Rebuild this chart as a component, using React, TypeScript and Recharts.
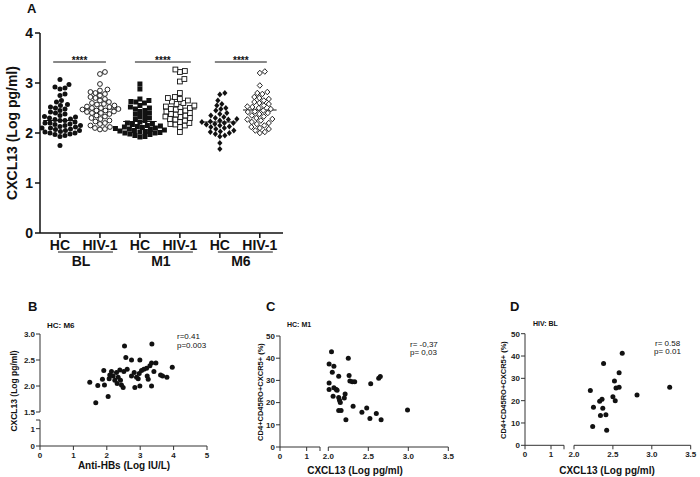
import React from 'react';
import { ScatterChart, Scatter, XAxis, YAxis, ReferenceLine } from 'recharts';

const FONT = '"Liberation Sans", Arial, sans-serif';
const INK = '#111';

// ---- Panel A: CXCL13 by group ----
const groupLabels = ['HC', 'HIV-1', 'HC', 'HIV-1', 'HC', 'HIV-1'];
const timepoints = ['BL', 'M1', 'M6'];

const blHC = [3.07, 2.97, 2.92, 2.9, 2.88, 2.78, 2.75, 2.65, 2.62, 2.57, 2.55, 2.52, 2.5, 2.48, 2.45, 2.42, 2.4, 2.38, 2.35, 2.33, 2.32, 2.3, 2.28, 2.27, 2.25, 2.25, 2.22, 2.2, 2.2, 2.18, 2.17, 2.15, 2.15, 2.13, 2.12, 2.1, 2.1, 2.08, 2.07, 2.05, 2.05, 2.03, 2.02, 2.0, 2.0, 1.98, 1.97, 1.95, 1.93, 1.75];
const blHIV = [3.22, 3.18, 2.98, 2.87, 2.85, 2.82, 2.8, 2.78, 2.75, 2.72, 2.7, 2.68, 2.65, 2.62, 2.6, 2.58, 2.57, 2.55, 2.53, 2.52, 2.5, 2.5, 2.48, 2.47, 2.45, 2.45, 2.43, 2.42, 2.4, 2.4, 2.38, 2.35, 2.33, 2.3, 2.28, 2.25, 2.23, 2.2, 2.18, 2.15, 2.12, 2.1, 2.08, 2.07];
const m1HC = [2.98, 2.88, 2.68, 2.65, 2.63, 2.62, 2.6, 2.55, 2.52, 2.5, 2.48, 2.45, 2.43, 2.4, 2.38, 2.35, 2.33, 2.3, 2.28, 2.25, 2.22, 2.2, 2.18, 2.17, 2.15, 2.14, 2.13, 2.12, 2.11, 2.1, 2.09, 2.08, 2.07, 2.06, 2.05, 2.04, 2.03, 2.02, 2.01, 2.0, 2.0, 1.98, 1.97, 1.95, 1.93, 1.92];
const m1HIV = [3.27, 3.24, 3.22, 3.08, 3.03, 2.8, 2.72, 2.7, 2.68, 2.65, 2.63, 2.6, 2.58, 2.55, 2.53, 2.52, 2.5, 2.48, 2.47, 2.45, 2.43, 2.42, 2.4, 2.38, 2.37, 2.35, 2.33, 2.32, 2.3, 2.28, 2.27, 2.25, 2.22, 2.2, 2.18, 2.17, 2.15, 2.12, 2.02];
const m6HC = [2.8, 2.77, 2.65, 2.58, 2.55, 2.5, 2.48, 2.45, 2.4, 2.38, 2.35, 2.32, 2.3, 2.28, 2.27, 2.25, 2.23, 2.22, 2.2, 2.2, 2.18, 2.17, 2.15, 2.13, 2.12, 2.1, 2.08, 2.05, 2.03, 2.02, 2.0, 1.98, 1.95, 1.93, 1.8, 1.68];
const m6HIV = [3.23, 3.2, 2.95, 2.82, 2.8, 2.78, 2.72, 2.7, 2.68, 2.65, 2.62, 2.6, 2.58, 2.55, 2.53, 2.52, 2.5, 2.48, 2.45, 2.43, 2.42, 2.4, 2.38, 2.35, 2.33, 2.3, 2.28, 2.27, 2.25, 2.22, 2.2, 2.18, 2.15, 2.12, 2.1, 2.08, 2.05, 2.02, 2.0];
const groupMeans = [2.25, 2.48, 2.23, 2.48, 2.22, 2.46];

// ---- Panel B: HC M6, anti-HBs vs CXCL13 ----
const antiHbsB = [1.49, 1.67, 1.73, 1.87, 1.91, 1.93, 2.04, 2.07, 2.09, 2.14, 2.19, 2.24, 2.29, 2.31, 2.34, 2.39, 2.41, 2.44, 2.49, 2.51, 2.53, 2.57, 2.61, 2.74, 2.74, 2.82, 2.84, 2.89, 2.94, 2.97, 2.99, 2.99, 3.04, 3.11, 3.19, 3.21, 3.24, 3.29, 3.34, 3.34, 3.35, 3.41, 3.47, 3.61, 3.67, 3.8, 3.96];
const cxclB = [2.07, 1.68, 2.01, 2.13, 2.3, 2.02, 1.8, 2.14, 2.21, 2.28, 2.19, 2.11, 2.26, 2.05, 2.17, 2.31, 2.11, 2.02, 1.97, 2.28, 2.77, 2.55, 2.32, 2.5, 2.19, 2.26, 1.97, 2.17, 2.14, 2.24, 2.5, 2.0, 2.3, 2.32, 2.34, 2.19, 2.13, 2.39, 2.44, 2.0, 2.81, 2.28, 2.44, 2.21, 2.19, 2.17, 2.36];

// ---- Panel C: HC M1, CXCL13 vs Tfh % ----
const cxclC = [2.04, 2.01, 2.07, 2.05, 2.01, 2.01, 2.07, 2.1, 2.11, 2.06, 2.13, 2.13, 2.14, 2.15, 2.13, 2.16, 2.2, 2.21, 2.22, 2.25, 2.26, 2.27, 2.3, 2.33, 2.31, 2.42, 2.48, 2.52, 2.53, 2.6, 2.63, 2.65, 2.66, 2.99];
const tfhC = [42.9, 37.4, 36.4, 33.7, 28.8, 25.9, 26.7, 25.9, 25.6, 22.9, 31.9, 22.3, 21.1, 20.0, 16.4, 16.4, 22.1, 23.9, 12.3, 40.0, 32.2, 29.7, 29.4, 29.4, 18.4, 15.7, 17.6, 12.8, 28.5, 15.1, 31.0, 31.8, 12.3, 16.7];

// ---- Panel D: HIV BL, CXCL13 vs Tfh % ----
const cxclD = [2.21, 2.24, 2.25, 2.33, 2.34, 2.36, 2.37, 2.38, 2.41, 2.42, 2.5, 2.52, 2.53, 2.54, 2.58, 2.58, 2.62, 2.81, 3.23];
const tfhD = [24.6, 8.4, 17.0, 19.7, 13.3, 20.6, 16.6, 36.7, 13.7, 6.7, 21.8, 28.8, 20.0, 25.7, 32.5, 26.0, 41.2, 22.5, 26.0];

// spread points of one column sideways so they don't overlap (pixel units: 40 px per group, 50 px per log unit)
function swarm(values: number[], center: number) {
  const pxX = 40, pxY = 50, d = 5;
  const placed: { px: number; py: number }[] = [];
  return [...values].sort((a, b) => a - b).map((v) => {
    const py = v * pxY;
    let off = 0;
    for (let k = 0; k < 400; k++) {
      const cand = k === 0 ? 0 : (k % 2 ? 1 : -1) * Math.ceil(k / 2) * 0.5;
      if (placed.every((p) => (p.px - cand) ** 2 + (p.py - py) ** 2 >= d * d)) {
        off = cand;
        break;
      }
    }
    placed.push({ px: off, py });
    return { x: center + off / pxX, y: v };
  });
}

const pairs = (xs: number[], ys: number[]) => xs.map((x, i) => ({ x, y: ys[i] }));

const Dot = (r: number) => (p: any) => <circle cx={p.cx} cy={p.cy} r={r} fill={INK} />;
const Nothing = () => <g />;
const OpenDot = (p: any) => <circle cx={p.cx} cy={p.cy} r={2.4} fill="#fff" stroke={INK} strokeWidth={0.9} />;
const Square = (p: any) => <rect x={p.cx - 2.5} y={p.cy - 2.5} width={5} height={5} fill={INK} />;
const OpenSquare = (p: any) => <rect x={p.cx - 2.4} y={p.cy - 2.4} width={4.8} height={4.8} fill="#fff" stroke={INK} strokeWidth={0.9} />;
const Diamond = (p: any) => <path d={`M${p.cx},${p.cy - 3} L${p.cx + 2.6},${p.cy} L${p.cx},${p.cy + 3} L${p.cx - 2.6},${p.cy} Z`} fill={INK} />;
const OpenDiamond = (p: any) => <path d={`M${p.cx},${p.cy - 2.8} L${p.cx + 2.6},${p.cy} L${p.cx},${p.cy + 2.8} L${p.cx - 2.6},${p.cy} Z`} fill="#fff" stroke={INK} strokeWidth={0.9} />;

const groups = [
  { values: blHC, shape: Dot(2.5) },
  { values: blHIV, shape: OpenDot },
  { values: m1HC, shape: Square },
  { values: m1HIV, shape: OpenSquare },
  { values: m6HC, shape: Diamond },
  { values: m6HIV, shape: OpenDiamond },
];

const sigBars = [
  [-0.17, 1.15],
  [1.875, 3.275],
  [3.875, 5.175],
];

function GroupTick(props: any) {
  const { x, y, payload } = props;
  const i = payload.value as number;
  return (
    <g fontFamily={FONT} fontWeight="bold" fill={INK}>
      <text x={x} y={y + 10} textAnchor="middle" fontSize={14} fill={INK}>
        {groupLabels[i]}
      </text>
      {i % 2 === 0 && (
        <>
          <line x1={x - 2} x2={x + 53} y1={y + 12} y2={y + 12} stroke={INK} strokeWidth={1} />
          <text x={x + 21} y={y + 26} textAnchor="middle" fontSize={14} fill={INK}>
            {timepoints[i / 2]}
          </text>
        </>
      )}
    </g>
  );
}

const axisA = { stroke: INK, strokeWidth: 1.5 };
const tickA = { fontSize: 14, fontWeight: 'bold', fill: INK, fontFamily: FONT };
const axisS = { stroke: '#333', strokeWidth: 1 };
const tickS = { fontSize: 8, fontWeight: 'bold', fill: '#222', fontFamily: FONT };

const abs = (left: number, top: number): React.CSSProperties => ({ position: 'absolute', left, top });
const noBreakLabel = (v: number) => (v === 1.5 ? '' : String(v));

export default function App() {
  return (
    <div style={{ position: 'absolute', left: 0, top: 0, width: 700, height: 477, background: '#fff', fontFamily: FONT }}>
      {/* Panel A */}
      <div style={abs(0, 0)}>
        <ScatterChart width={300} height={280} margin={{ top: 33, right: 17, bottom: 17, left: 0 }}>
          <XAxis type="number" dataKey="x" domain={[-0.5, 5.58]} ticks={[0, 1, 2, 3, 4, 5]} interval={0}
            tick={<GroupTick />} tickSize={5} tickLine={axisA} axisLine={axisA} height={30} allowDataOverflow />
          <YAxis type="number" dataKey="y" domain={[0, 4]} ticks={[0, 1, 2, 3, 4]} width={40} interval={0}
            tick={tickA} tickSize={5} tickMargin={2} tickLine={axisA} axisLine={axisA} />
          {groups.map((g, i) => (
            <Scatter key={i} data={swarm(g.values, i)} shape={g.shape} isAnimationActive={false} />
          ))}
          {groupMeans.map((m, i) => (
            <ReferenceLine key={'m' + i} segment={[{ x: i - 0.42, y: m }, { x: i + 0.42, y: m }]} stroke={INK} strokeWidth={1.2} />
          ))}
          {sigBars.map(([a, b], i) => (
            <ReferenceLine key={'s' + i} segment={[{ x: a, y: 3.42 }, { x: b, y: 3.42 }]} stroke={INK} strokeWidth={1}
              label={{ value: '****', position: 'top', offset: -2, fontSize: 10, fontWeight: 'bold', fill: INK, fontFamily: FONT }} />
          ))}
        </ScatterChart>
      </div>

      {/* Panel B lower (0 - 1.5) with x axis */}
      <div style={abs(0, 415)}>
        <ScatterChart width={215} height={60} margin={{ top: 5, right: 8, bottom: 11, left: 0 }}>
          <XAxis type="number" dataKey="x" domain={[0, 5]} ticks={[0, 1, 2, 3, 4, 5]} interval={0} height={18} allowDataOverflow
            tick={tickS} tickSize={4} tickMargin={2} tickLine={axisS} axisLine={axisS} />
          <YAxis type="number" dataKey="y" domain={[0, 1.5]} ticks={[0, 1, 1.5]} width={40} allowDataOverflow interval={0}
            tickFormatter={noBreakLabel} tick={tickS} tickSize={4} tickMargin={1} tickLine={axisS} axisLine={axisS} />
          <Scatter data={pairs(antiHbsB, cxclB)} shape={Nothing} isAnimationActive={false} />
        </ScatterChart>
      </div>
      {/* Panel B upper (1.5 - 3.0) */}
      <div style={abs(0, 325)}>
        <ScatterChart width={215} height={97} margin={{ top: 9, right: 8, bottom: 10, left: 0 }}>
          <XAxis type="number" dataKey="x" domain={[0, 5]} hide />
          <YAxis type="number" dataKey="y" domain={[1.5, 3]} ticks={[1.5, 2, 2.5, 3]} width={40} interval={0}
            tickFormatter={(v: number) => v.toFixed(1)} tick={tickS} tickSize={4} tickMargin={1} tickLine={axisS} axisLine={axisS} />
          <Scatter data={pairs(antiHbsB, cxclB)} shape={Dot(2.5)} isAnimationActive={false} />
        </ScatterChart>
      </div>

      {/* Panel C left segment (0 - 1.5) */}
      <div style={abs(230, 326)}>
        <ScatterChart width={92} height={140} margin={{ top: 10, right: 2, bottom: 0, left: 0 }}>
          <XAxis type="number" dataKey="x" domain={[0, 1.5]} ticks={[0, 1, 1.5]} interval={0} height={19} allowDataOverflow
            tickFormatter={noBreakLabel} tick={tickS} tickSize={4} tickMargin={2} tickLine={axisS} axisLine={axisS} />
          <YAxis type="number" dataKey="y" domain={[0, 50]} ticks={[0, 10, 20, 30, 40, 50]} width={50} allowDataOverflow interval={0}
            tick={tickS} tickSize={4} tickMargin={1} tickLine={axisS} axisLine={axisS} />
          <Scatter data={pairs(cxclC, tfhC)} shape={Nothing} isAnimationActive={false} />
        </ScatterChart>
      </div>
      {/* Panel C right segment (2.0 - 3.5) */}
      <div style={abs(320, 326)}>
        <ScatterChart width={140} height={140} margin={{ top: 10, right: 11.7, bottom: 0, left: 8.3 }}>
          <XAxis type="number" dataKey="x" domain={[2, 3.5]} ticks={[2, 2.5, 3, 3.5]} interval={0} height={19}
            tickFormatter={(v: number) => v.toFixed(1)} tick={tickS} tickSize={4} tickMargin={2} tickLine={axisS} axisLine={axisS} />
          <YAxis type="number" dataKey="y" domain={[0, 50]} hide />
          <Scatter data={pairs(cxclC, tfhC)} shape={Dot(2.5)} isAnimationActive={false} />
        </ScatterChart>
      </div>

      {/* Panel D left segment (0 - 1.5) */}
      <div style={abs(475, 324)}>
        <ScatterChart width={92} height={140} margin={{ top: 9.7, right: 3, bottom: 0, left: 0 }}>
          <XAxis type="number" dataKey="x" domain={[0, 1.5]} ticks={[0, 1, 1.5]} interval={0} height={18.7} allowDataOverflow
            tickFormatter={noBreakLabel} tick={tickS} tickSize={4} tickMargin={2} tickLine={axisS} axisLine={axisS} />
          <YAxis type="number" dataKey="y" domain={[0, 50]} ticks={[0, 10, 20, 30, 40, 50]} width={50} allowDataOverflow interval={0}
            tick={tickS} tickSize={4} tickMargin={1} tickLine={axisS} axisLine={axisS} />
          <Scatter data={pairs(cxclD, tfhD)} shape={Nothing} isAnimationActive={false} />
        </ScatterChart>
      </div>
      {/* Panel D right segment (2.0 - 3.5) */}
      <div style={abs(566, 324)}>
        <ScatterChart width={134} height={140} margin={{ top: 9.7, right: 9.3, bottom: 0, left: 8 }}>
          <XAxis type="number" dataKey="x" domain={[2, 3.5]} ticks={[2, 2.5, 3, 3.5]} interval={0} height={18.7}
            tickFormatter={(v: number) => v.toFixed(1)} tick={tickS} tickSize={4} tickMargin={2} tickLine={axisS} axisLine={axisS} />
          <YAxis type="number" dataKey="y" domain={[0, 50]} hide />
          <Scatter data={pairs(cxclD, tfhD)} shape={Dot(2.5)} isAnimationActive={false} />
        </ScatterChart>
      </div>

      {/* titles, axis labels and stats */}
      <svg width={700} height={477} style={{ position: 'absolute', left: 0, top: 0, pointerEvents: 'none' }}
        fontFamily={FONT} fontWeight="bold" fill={INK}>
        <text x={27} y={13} fontSize={13}>A</text>
        <text x={17} y={133} fontSize={14} textAnchor="middle" transform="rotate(-90 17 133)">CXCL13 (Log pg/ml)</text>

        <text x={28} y={311} fontSize={13}>B</text>
        <text x={47} y={328} fontSize={8}>HC: M6</text>
        <text x={17} y={391} fontSize={8.5} textAnchor="middle" transform="rotate(-90 17 391)">CXCL13 (Log pg/ml)</text>
        <text x={124} y={469} fontSize={10} textAnchor="middle">Anti-HBs (Log IU/L)</text>
        <text x={177} y={339} fontSize={8} fontWeight="normal">r=0.41</text>
        <text x={177} y={348} fontSize={8} fontWeight="normal">p=0.003</text>

        <text x={266} y={311} fontSize={13}>C</text>
        <text x={287} y={327} fontSize={7}>HC: M1</text>
        <text x={263} y={392} fontSize={7.5} textAnchor="middle" transform="rotate(-90 263 392)">CD4+CD45RO+CXCR5+ (%)</text>
        <text x={355} y={474} fontSize={10} textAnchor="middle">CXCL13 (Log pg/ml)</text>
        <text x={410} y={347} fontSize={8} fontWeight="normal">r= -0,37</text>
        <text x={410} y={355} fontSize={8} fontWeight="normal">p= 0,03</text>

        <text x={510} y={311} fontSize={13}>D</text>
        <text x={533} y={326} fontSize={7}>HIV: BL</text>
        <text x={506} y={390} fontSize={7.5} textAnchor="middle" transform="rotate(-90 506 390)">CD4+CD45RO+CXCR5+ (%)</text>
        <text x={607} y={474} fontSize={10} textAnchor="middle">CXCL13 (Log pg/ml)</text>
        <text x={655} y={346} fontSize={8} fontWeight="normal">r= 0.58</text>
        <text x={654} y={354} fontSize={8} fontWeight="normal">p= 0.01</text>
      </svg>
    </div>
  );
}
